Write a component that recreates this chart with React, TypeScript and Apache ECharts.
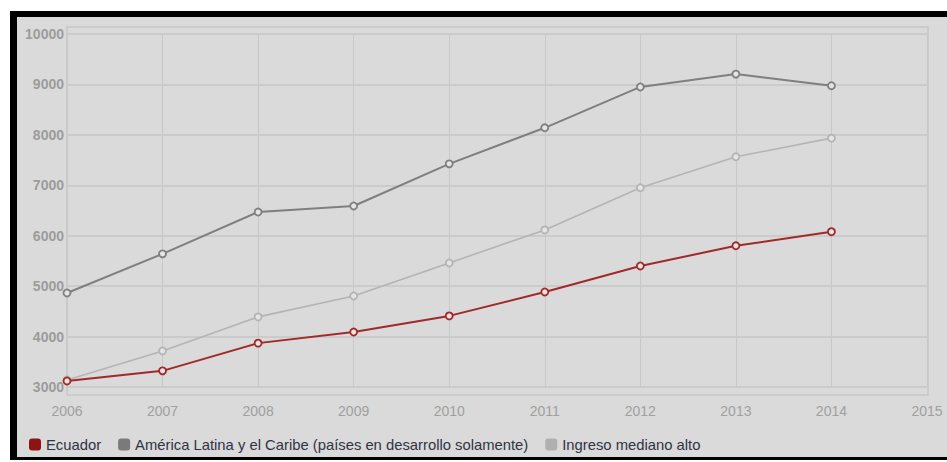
import React, { useEffect, useRef } from "react";
import * as echarts from "echarts";

const years = [2006, 2007, 2008, 2009, 2010, 2011, 2012, 2013, 2014];
const ecuador = [3120, 3320, 3870, 4090, 4410, 4885, 5400, 5800, 6080];
const americaLatina = [4865, 5640, 6470, 6590, 7425, 8140, 8950, 9205, 8975];
const ingresoMedianoAlto = [3140, 3715, 4390, 4805, 5460, 6115, 6950, 7565, 7935];
const seriesNames = [
  "Ecuador",
  "América Latina y el Caribe (países en desarrollo solamente)",
  "Ingreso mediano alto",
];
const seriesColors = ["#a32828", "#7f7f7f", "#b4b4b4"];
const legendColors = ["#8e1414", "#7a7a7a", "#b0b0b0"];

export default function App() {
  const ref = useRef<HTMLDivElement>(null);
  useEffect(() => {
    if (!ref.current) return;
    const chart = echarts.init(ref.current, undefined, { renderer: "svg" });
    const allData = [ecuador, americaLatina, ingresoMedianoAlto];
    chart.setOption({
      animation: false,
      backgroundColor: "#ffffff",
      textStyle: { fontFamily: "Liberation Sans, Arial, sans-serif" },
      graphic: [
        { type: "rect", z: -10, shape: { x: 10, y: 11, width: 937, height: 449 }, style: { fill: "#000000" } },
        { type: "rect", z: -9, shape: { x: 17, y: 17, width: 930, height: 440 }, style: { fill: "#dadada" } },
        { type: "rect", z: -8, shape: { x: 67, y: 27, width: 861, height: 368 }, style: { fill: "none", stroke: "#c6c6c6", lineWidth: 1.5 } },
      ],
      grid: { left: 67, right: 20, top: 34, bottom: 75 },
      legend: {
        left: 24,
        top: 432,
        icon: "roundRect",
        itemWidth: 12,
        itemHeight: 12,
        itemGap: 17,
        textStyle: { color: "#2f3444", fontSize: 14.8 },
        data: seriesNames.map((name, i) => ({
          name,
          itemStyle: { color: legendColors[i], borderWidth: 0 },
        })),
      },
      xAxis: {
        type: "value",
        min: 2006,
        max: 2015,
        interval: 1,
        axisLine: { show: false },
        axisTick: { show: false },
        axisLabel: { color: "#a0a0a0", fontSize: 14, margin: 17, formatter: (v: number) => String(v) },
        splitLine: { show: true, lineStyle: { color: "#c8c8c8", width: 1 } },
      },
      yAxis: {
        type: "value",
        min: 3000,
        max: 10000,
        interval: 1000,
        axisLine: { show: false },
        axisTick: { show: false },
        axisLabel: { color: "#9c9c9c", fontSize: 14, fontWeight: "bold", margin: 3, formatter: (v: number) => String(v) },
        splitLine: { show: true, lineStyle: { color: "#c6c6c6", width: 1.5 } },
      },
      series: seriesNames.map((name, i) => ({
        name,
        type: "line",
        data: years.map((y, j) => [y, allData[i][j]]),
        symbol: "circle",
        symbolSize: 7,
        color: seriesColors[i],
        lineStyle: { color: seriesColors[i], width: i === 2 ? 1.6 : 2 },
        itemStyle: { color: "#e4e4e4", borderColor: seriesColors[i], borderWidth: 1.8 },
        z: 3 - i,
      })),
    });
    return () => chart.dispose();
  }, []);
  return (
    <div
      ref={ref}
      style={{ position: "fixed", left: 0, top: 0, width: 947, height: 462 }}
    />
  );
}
